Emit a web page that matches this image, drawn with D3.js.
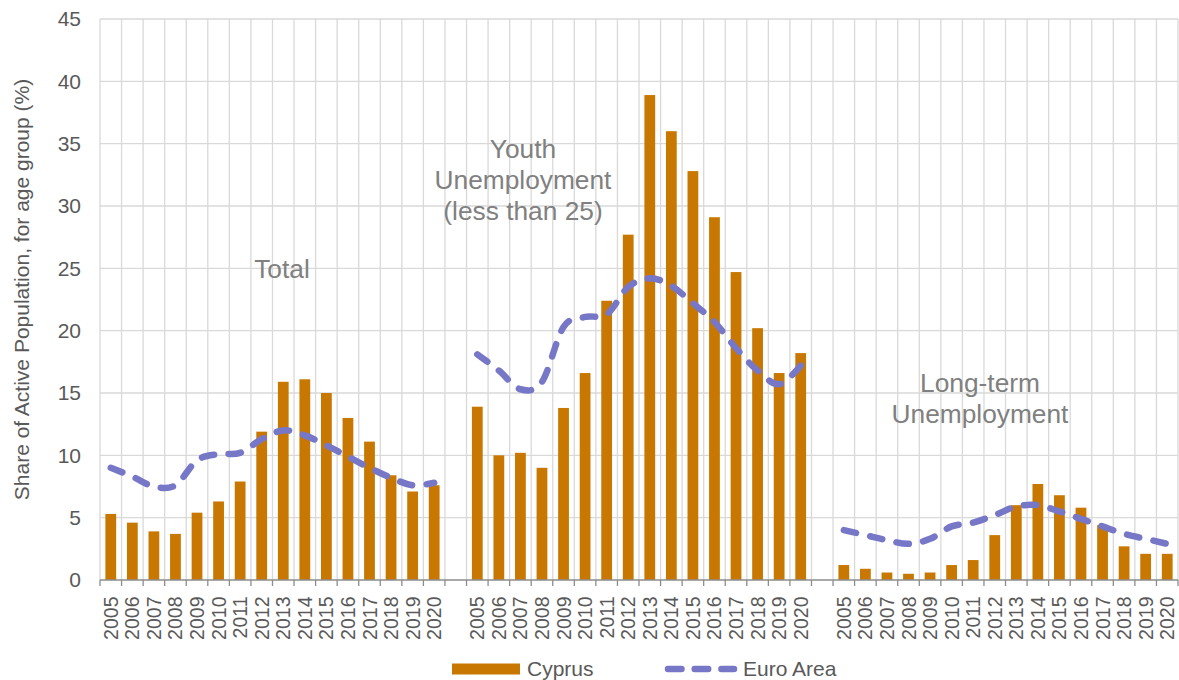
<!DOCTYPE html>
<html>
<head>
<meta charset="utf-8">
<script src="https://cdn.jsdelivr.net/npm/d3@7"></script>
<style>
  html, body { margin: 0; padding: 0; background: #ffffff; }
  svg { display: block; font-family: "Liberation Sans", Arial, sans-serif; }
</style>
</head>
<body>
<svg id="chart" width="1179" height="680"></svg>
<script>
// Tick labels along the x axis (one per year, repeated in each panel)
const years = ["2005","2006","2007","2008","2009","2010","2011","2012",
               "2013","2014","2015","2016","2017","2018","2019","2020"];

// Panel identifiers and their captions
const groups = ["total", "youth", "longterm"];
const groupCaptions = [
  ["Total"],
  ["Youth", "Unemployment", "(less than 25)"],
  ["Long-term", "Unemployment"]
];

// Cyprus (bars), % of active population
const cyprusTotal = [5.3, 4.6, 3.9, 3.7, 5.4, 6.3, 7.9, 11.9, 15.9, 16.1, 15.0, 13.0, 11.1, 8.4, 7.1, 7.6];
const cyprusYouth = [13.9, 10.0, 10.2, 9.0, 13.8, 16.6, 22.4, 27.7, 38.9, 36.0, 32.8, 29.1, 24.7, 20.2, 16.6, 18.2];
const cyprusLongTerm = [1.2, 0.9, 0.6, 0.5, 0.6, 1.2, 1.6, 3.6, 6.0, 7.7, 6.8, 5.8, 4.4, 2.7, 2.1, 2.1];

// Euro Area (dashed line), % of active population
const euroTotal = [9.0, 8.3, 7.5, 7.6, 9.6, 10.1, 10.2, 11.3, 12.0, 11.6, 10.8, 9.9, 9.0, 8.2, 7.6, 7.8];
const euroYouth = [18.1, 16.8, 15.3, 15.9, 20.3, 21.1, 21.3, 23.5, 24.2, 23.6, 22.2, 20.7, 18.6, 16.8, 15.7, 17.2];
const euroLongTerm = [4.0, 3.6, 3.2, 2.9, 3.3, 4.3, 4.6, 5.2, 5.9, 6.0, 5.5, 4.9, 4.3, 3.7, 3.3, 2.9];

const yTicks = [0, 5, 10, 15, 20, 25, 30, 35, 40, 45];

const cyprusByGroup = [cyprusTotal, cyprusYouth, cyprusLongTerm];
const euroByGroup = [euroTotal, euroYouth, euroLongTerm];

// Category slots: 16 years per panel with one empty slot between panels
const slots = [];
groups.forEach((g, gi) => {
  if (gi > 0) slots.push({ key: "gap" + gi, label: "" });
  years.forEach(y => slots.push({ key: g + "-" + y, label: y }));
});

const rows = [];
groups.forEach((g, gi) => {
  years.forEach((y, i) => rows.push({
    group: g, key: g + "-" + y, year: y,
    cyprus: cyprusByGroup[gi][i], euro: euroByGroup[gi][i]
  }));
});

const COLORS = { bar: "#C87800", line: "#7777C8", grid: "#D9D9D9", axis: "#8C8C8C", text: "#595959", caption: "#808080" };

const svg = d3.select("#chart");
const plotLeft = 100, plotRight = 1178, plotTop = 19, plotBottom = 580;

const x = d3.scaleBand().domain(slots.map(s => s.key)).range([plotLeft, plotRight]).padding(0);
const y = d3.scaleLinear().domain([0, 45]).range([plotBottom, plotTop]);
const bw = x.bandwidth();

// Horizontal gridlines
svg.append("g").selectAll("line").data(yTicks.filter(t => t > 0)).join("line")
  .attr("x1", plotLeft).attr("x2", plotRight)
  .attr("y1", d => y(d)).attr("y2", d => y(d))
  .attr("stroke", COLORS.grid).attr("stroke-width", 1.3);

// Vertical gridlines on every slot boundary
const boundaries = slots.map(s => x(s.key)).concat([x(slots[slots.length - 1].key) + bw]);
svg.append("g").selectAll("line").data(boundaries).join("line")
  .attr("x1", d => d).attr("x2", d => d)
  .attr("y1", plotTop).attr("y2", plotBottom)
  .attr("stroke", COLORS.grid).attr("stroke-width", 1.3);

// Y axis labels
const yAxis = d3.axisLeft(y).tickValues(yTicks).tickSize(0).tickPadding(0);
const gy = svg.append("g").attr("transform", `translate(81,0)`).call(yAxis);
gy.select(".domain").remove();
gy.selectAll("text").attr("fill", COLORS.text).attr("font-size", 21)
  .attr("font-family", "Liberation Sans, Arial, sans-serif");

// Y axis title
svg.append("text")
  .attr("transform", `translate(29,${(77 + 502) / 2}) rotate(-90)`)
  .attr("text-anchor", "middle")
  .attr("fill", COLORS.text).attr("font-size", 21)
  .text("Share of Active Population, for age group (%)");

// Bars
svg.append("g").selectAll("rect").data(rows).join("rect")
  .attr("x", d => x(d.key) + bw * 0.25)
  .attr("width", bw * 0.5)
  .attr("y", d => y(d.cyprus))
  .attr("height", d => y(0) - y(d.cyprus))
  .attr("fill", COLORS.bar);

// Euro Area smoothed dashed lines, one per panel
const line = d3.line()
  .x(d => x(d.key) + bw / 2)
  .y(d => y(d.euro))
  .curve(d3.curveCardinal.tension(0));

svg.append("g").selectAll("path").data(groups).join("path")
  .attr("d", g => line(rows.filter(r => r.group === g)))
  .attr("fill", "none")
  .attr("stroke", COLORS.line)
  .attr("stroke-width", 6.5)
  .attr("stroke-linecap", "round")
  .attr("stroke-dasharray", "12.5 14.5");

// X axis line and ticks on slot boundaries
svg.append("line")
  .attr("x1", plotLeft).attr("x2", plotRight).attr("y1", plotBottom).attr("y2", plotBottom)
  .attr("stroke", COLORS.axis).attr("stroke-width", 1.5);
svg.append("g").selectAll("line").data(boundaries).join("line")
  .attr("x1", d => d).attr("x2", d => d)
  .attr("y1", plotBottom).attr("y2", plotBottom + 6)
  .attr("stroke", COLORS.axis).attr("stroke-width", 1.3);

// Year labels, rotated
const xAxis = d3.axisBottom(x).tickSize(0).tickPadding(0)
  .tickFormat(k => slots.find(s => s.key === k).label);
const gx = svg.append("g").attr("transform", `translate(0,${plotBottom})`).call(xAxis);
gx.select(".domain").remove();
gx.selectAll("text")
  .attr("fill", COLORS.text).attr("font-size", 19.5)
  .attr("font-family", "Liberation Sans, Arial, sans-serif")
  .attr("text-anchor", "end")
  .attr("transform", "rotate(-90)")
  .attr("x", -16.5).attr("y", 0).attr("dy", "0.36em");

// Panel captions
const captionPos = [
  { cx: 282, baseline: 278 },
  { cx: 523, baseline: 158 },
  { cx: 980, baseline: 391.5 }
];
groupCaptions.forEach((lines, i) => {
  const t = svg.append("text")
    .attr("text-anchor", "middle")
    .attr("fill", COLORS.caption).attr("font-size", 26.3);
  lines.forEach((ln, j) => t.append("tspan")
    .attr("x", captionPos[i].cx)
    .attr("y", captionPos[i].baseline + j * 31)
    .text(ln));
});

// Legend
const lg = svg.append("g");
lg.append("rect").attr("x", 452).attr("y", 663.5).attr("width", 68).attr("height", 11)
  .attr("fill", COLORS.bar);
lg.append("text").attr("x", 527).attr("y", 676).attr("fill", COLORS.text)
  .attr("font-size", 21).text("Cyprus");
lg.append("line").attr("x1", 668).attr("x2", 734).attr("y1", 669).attr("y2", 669)
  .attr("stroke", COLORS.line).attr("stroke-width", 6.5)
  .attr("stroke-linecap", "round").attr("stroke-dasharray", "13.5 13.2");
lg.append("text").attr("x", 743).attr("y", 676).attr("fill", COLORS.text)
  .attr("font-size", 21).text("Euro Area");
</script>
</body>
</html>
